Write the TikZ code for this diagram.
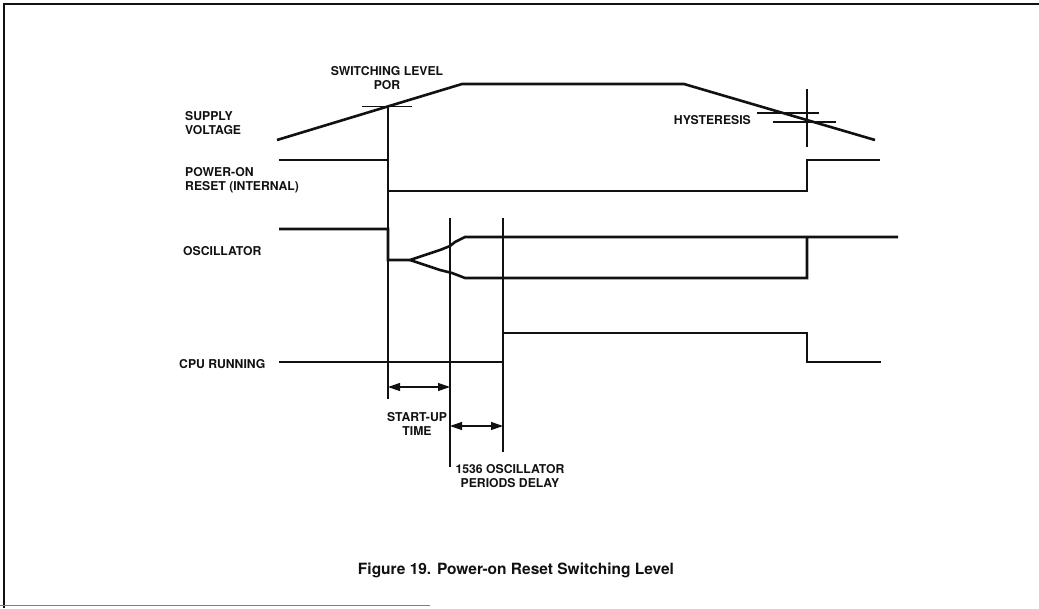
\documentclass[tikz,border=0pt]{standalone}
\usepackage{fontspec}
\setmainfont{TeX Gyre Heros}
\usetikzlibrary{arrows.meta,calc}
\definecolor{ink}{HTML}{111111}
\newcommand{\lblfont}{\fontsize{12.2}{14}\selectfont\bfseries}
\newcommand{\capfont}{\fontsize{15.5}{18}\selectfont\bfseries}
\tikzset{
  sig/.style={line width=2.6pt, ink, line join=miter},
  guide/.style={line width=1.1pt, ink},
  dim/.style={line width=1.1pt, ink, {Triangle[length=12pt,width=8pt]}-{Triangle[length=12pt,width=8pt]}},
  lbl/.style={inner sep=0pt, font=\lblfont, ink, align=left},
}

\begin{document}
\begin{tikzpicture}[x=1pt,y=-1pt]
 \useasboundingbox (0,0) rectangle (1039,608);
 \draw[line width=1.5pt, ink] (4,608) -- (4,4) -- (1039,4);
 \draw[line width=1pt, gray] (0,605) -- (430,605);
 % supply voltage with the two switching levels
 \draw[sig] (277,140) -- (462,84) -- (684,84) -- (875,140);
 \draw[guide] (362,106.5) -- (412,106.5);
 \draw[guide] (388,106.5) -- (388,399);
 \draw[guide] (807,89) -- (807,147);
 \draw[guide] (757,113) -- (819,113);
 \draw[guide] (773,122) -- (836,122);
 % signals
 \draw[sig] (279,160) -- (388,160) -- (388,191) -- (807,191) -- (807,160) -- (880,160);
 \draw[sig] (279,229) -- (388,229) -- (388,260) -- (410,260)
   -- (425,255) -- (440,250) -- (450,246) -- (455,242) -- (465,237) -- (898,237);
 \draw[sig] (410,260) -- (425,265) -- (440,270) -- (452,273) -- (465,278)
   -- (807,278) -- (807,237);
 \draw[guide] (450,218) -- (450,467);
 \draw[guide] (503,218) -- (503,452);
 \draw[sig] (279,362) -- (503,362) -- (503,333) -- (807,333) -- (807,362) -- (881,362);
 \coordinate (su0) at (388,387);
 \coordinate (su1) at (450,387);
 \coordinate (dl0) at (450,426);
 \coordinate (dl1) at (503,426);
 \draw[dim] (su0) -- (su1);
 \draw[dim] (dl0) -- (dl1);
 \node[lbl, align=center] (swlvl) at (387,78.5) {SWITCHING LEVEL\\POR};
 \node[lbl, anchor=west] (supply) at (185,123.5) {SUPPLY\\VOLTAGE};
 \node[lbl, anchor=west] (porlbl) at (185,180) {POWER-ON\\RESET (INTERNAL)};
 \node[lbl, anchor=west] (osclbl) at (183,251) {OSCILLATOR};
 \node[lbl, anchor=west] (cpulbl) at (179,364) {CPU RUNNING};
 \node[lbl, anchor=east] (hyst) at (751,120) {HYSTERESIS};
 \node[lbl, align=center] (startup) at (417,423.5) {START-UP\\TIME};
 \node[lbl, align=center] (delay) at (510,476.5) {1536 OSCILLATOR\\PERIODS DELAY};
 \node[inner sep=0pt, font=\capfont, ink] (caption) at (516,570) {Figure 19. Power-on Reset Switching Level};
\end{tikzpicture}
\end{document}
